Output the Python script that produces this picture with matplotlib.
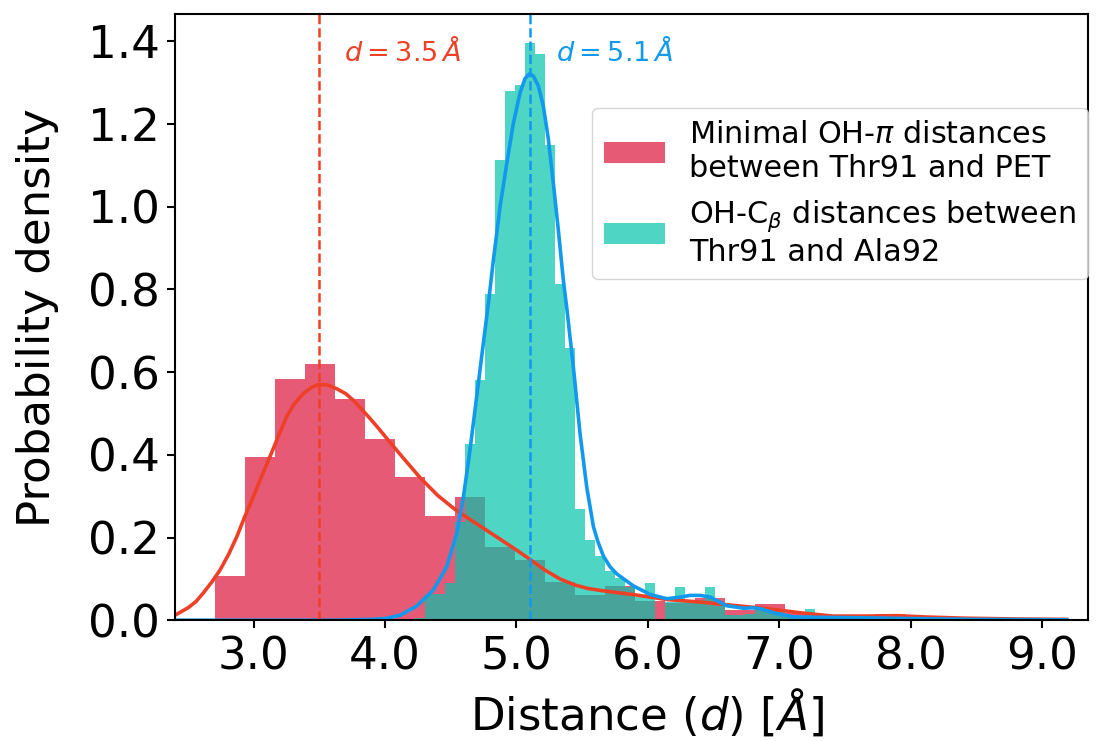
import numpy as np
import matplotlib
matplotlib.use("Agg")
import matplotlib.pyplot as plt

# histogram of minimal OH-pi distances (Thr91 - PET), density per bin
red_start = 2.705
red_width = 0.2285
red_heights = [0.107, 0.395, 0.583, 0.619, 0.535, 0.439, 0.347, 0.251,
               0.298, 0.176, 0.145, 0.093, 0.060, 0.083, 0.047, 0.041,
               0.053, 0.024, 0.039, 0.017, 0.008, 0.005, 0.016]

# histogram of OH-Cbeta distances (Thr91 - Ala92)
teal_start = 4.228
teal_width = 0.07617
teal_heights = [0.005, 0.064, 0.064, 0.090, 0.238, 0.427, 0.580, 0.788,
                1.112, 1.279, 1.294, 1.396, 1.370, 1.150, 0.814, 0.658,
                0.270, 0.195, 0.155, 0.119, 0.103, 0.080, 0.055, 0.091,
                0.000, 0.045, 0.080, 0.050, 0.050, 0.080, 0.035, 0.012,
                0.012, 0.015, 0.025, 0.025, 0.020, 0.010, 0.010, 0.027,
                0.008, 0.005, 0.004, 0.003, 0.003, 0.002, 0.002, 0.002,
                0.000, 0.002, 0.001, 0.001]

# kde curves
red_kde_x = [2.30, 2.40, 2.50, 2.56, 2.614, 2.68, 2.743, 2.81, 2.870, 2.93,
             2.996, 3.06, 3.123, 3.19, 3.250, 3.31, 3.377, 3.44, 3.49, 3.56,
             3.631, 3.70, 3.758, 3.82, 3.885, 3.95, 4.012, 4.139, 4.266,
             4.40, 4.532, 4.65, 4.761, 4.88, 4.99, 5.09, 5.218, 5.33, 5.447,
             5.54, 5.64, 5.76, 5.89, 6.145, 6.40, 6.65, 6.906, 7.16, 7.41,
             7.66, 7.9, 8.1, 8.4, 8.8, 9.19]
red_kde_y = [0.004, 0.012, 0.030, 0.045, 0.065, 0.092, 0.121, 0.160, 0.201,
             0.249, 0.298, 0.348, 0.395, 0.447, 0.492, 0.524, 0.548, 0.563,
             0.570, 0.569, 0.560, 0.548, 0.532, 0.511, 0.488, 0.464, 0.440,
             0.392, 0.345, 0.302, 0.268, 0.243, 0.220, 0.195, 0.172, 0.150,
             0.121, 0.100, 0.085, 0.077, 0.072, 0.067, 0.062, 0.050, 0.044,
             0.036, 0.028, 0.018, 0.010, 0.010, 0.011, 0.008, 0.005, 0.003,
             0.002]

blue_kde_x = [2.30, 3.60, 3.90, 4.00, 4.114, 4.24, 4.367, 4.469, 4.545,
              4.596, 4.646, 4.697, 4.748, 4.786, 4.824, 4.875, 4.926, 4.976,
              5.027, 5.065, 5.10, 5.129, 5.167, 5.205, 5.243, 5.281, 5.319,
              5.357, 5.383, 5.433, 5.484, 5.535, 5.586, 5.62, 5.662, 5.713,
              5.764, 5.89, 6.02, 6.145, 6.25, 6.32, 6.40, 6.475, 6.54, 6.60,
              6.73, 6.80, 6.855, 6.98, 7.11, 7.3, 7.6, 8.0, 8.5, 9.19]
blue_kde_y = [0.0, 0.0, 0.002, 0.004, 0.012, 0.034, 0.073, 0.129, 0.210,
              0.298, 0.411, 0.540, 0.670, 0.765, 0.870, 1.000, 1.104, 1.201,
              1.275, 1.310, 1.322, 1.316, 1.292, 1.243, 1.163, 1.056, 0.943,
              0.822, 0.755, 0.613, 0.451, 0.322, 0.226, 0.190, 0.155, 0.129,
              0.112, 0.083, 0.062, 0.052, 0.056, 0.060, 0.060, 0.056, 0.045,
              0.035, 0.029, 0.030, 0.028, 0.016, 0.008, 0.007, 0.006, 0.004,
              0.002, 0.001]

peak_red = 3.5
peak_blue = 5.1

red_edges = red_start + red_width * np.arange(len(red_heights))
teal_edges = teal_start + teal_width * np.arange(len(teal_heights))

line_red = "#ee4026"
line_blue = "#1199ee"

fig, ax = plt.subplots(figsize=(11, 7.41), dpi=100)
fig.subplots_adjust(left=0.159, right=0.989, top=0.981, bottom=0.163)

ax.bar(red_edges, red_heights, width=red_width, align="edge",
       color="crimson", alpha=0.7, linewidth=0,
       label="Minimal OH-$\\pi$ distances\nbetween Thr91 and PET")
ax.bar(teal_edges, teal_heights, width=teal_width, align="edge",
       color="#05c4ab", alpha=0.7, linewidth=0,
       label="OH-C$_\\beta$ distances between\nThr91 and Ala92")

ax.plot(red_kde_x, red_kde_y, color=line_red, lw=2.6)
ax.plot(blue_kde_x, blue_kde_y, color=line_blue, lw=2.6)

ax.axvline(peak_red, color=line_red, ls="--", lw=1.8)
ax.axvline(peak_blue, color=line_blue, ls="--", lw=1.8)

ax.text(3.69, 1.374, r"$d = %.1f\,\AA$" % peak_red, color=line_red,
        fontsize=19.6, va="center")
ax.text(5.30, 1.374, r"$d = %.1f\,\AA$" % peak_blue, color=line_blue,
        fontsize=19.6, va="center")

ax.set_xlim(2.4, 9.35)
ax.set_ylim(0, 1.466)
ax.set_xticks([3, 4, 5, 6, 7, 8, 9])
ax.set_yticks(np.arange(0, 1.41, 0.2))
ax.xaxis.set_major_formatter("{x:.1f}")
ax.yaxis.set_major_formatter("{x:.1f}")
ax.tick_params(labelsize=32.5, length=6, width=1.5, pad=5)
for s in ax.spines.values():
    s.set_linewidth(1.5)

ax.set_xlabel("Distance ($d$) [$\\AA$]", fontsize=32.5, labelpad=6)
ax.set_ylabel("Probability density", fontsize=32.5, labelpad=21)
ax.xaxis.label.set_x(0.517)

ax.legend(loc="upper right", bbox_to_anchor=(1.0, 0.845), borderaxespad=0,
          fontsize=21.8)

fig.savefig("out.png")
